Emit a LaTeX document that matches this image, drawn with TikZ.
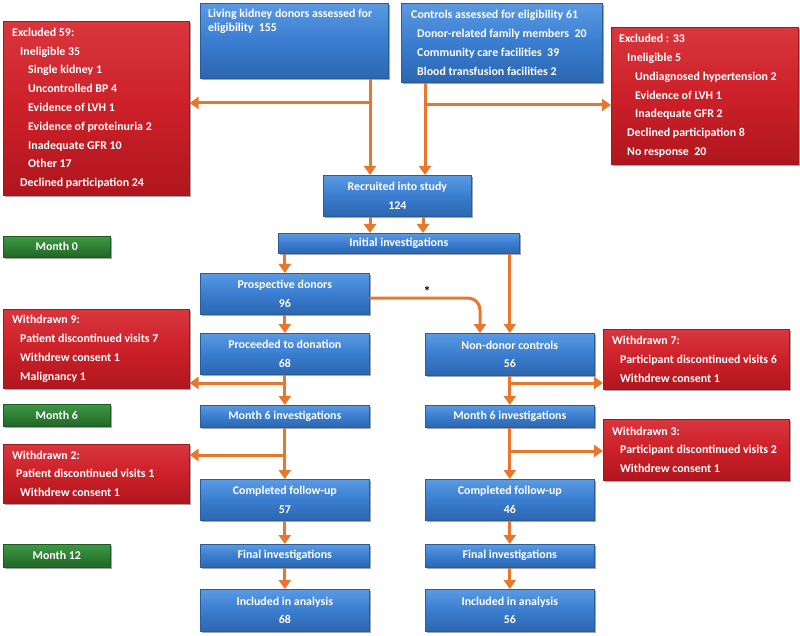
\documentclass[tikz,border=0pt]{standalone}
\usepackage{fontspec}
\setmainfont{Carlito}
\usetikzlibrary{arrows.meta,shadows,calc}
\definecolor{bluemid}{HTML}{3A7DD0}
\definecolor{bluetop}{HTML}{5B9AE2}
\definecolor{bluebot}{HTML}{2C66B0}
\definecolor{blueedge}{HTML}{2A5C9C}
\definecolor{redmid}{HTML}{CC2029}
\definecolor{redtop}{HTML}{D9363D}
\definecolor{redbot}{HTML}{B0161E}
\definecolor{rededge}{HTML}{9E1A1F}
\definecolor{greenmid}{HTML}{2F8034}
\definecolor{greentop}{HTML}{3E9744}
\definecolor{greenbot}{HTML}{226628}
\definecolor{greenedge}{HTML}{1D5A22}
\definecolor{orng}{HTML}{E8762D}
\tikzset{
  boxbase/.style={anchor=north west, inner sep=0pt, line width=0.6pt,
    drop shadow={shadow xshift=1.5pt, shadow yshift=-1.5pt, opacity=0.35, fill=black},
    text=white, align=center, font=\bfseries\fontsize{11.9}{18.8}\selectfont},
  bluebox/.style={boxbase, draw=blueedge, top color=bluetop, bottom color=bluebot, middle color=bluemid},
  redbox/.style={boxbase, draw=rededge, top color=redtop, bottom color=redbot, middle color=redmid},
  greenbox/.style={boxbase, draw=greenedge, top color=greentop, bottom color=greenbot, middle color=greenmid},
  ltxt/.style={text=white, anchor=west, align=left, inner sep=0pt, font=\bfseries\fontsize{11.9}{18.8}\selectfont},
  arr/.style={draw=orng, line width=3pt, -{Triangle[width=12pt,length=9pt]}},
}
\newcommand\ind{\hspace*{8pt}}
\begin{document}
\begin{tikzpicture}[x=1pt,y=-1pt]
\useasboundingbox (0,0) rectangle (800,636);
% ---- boxes
\node[bluebox, minimum width=188pt, minimum height=75pt] (living) at (200,3) {};
\node[ltxt, anchor=north west, font=\bfseries\fontsize{11.9}{14}\selectfont] (livingtxt) at (208,9) {Living kidney donors assessed for\\eligibility~ 155};
\node[bluebox, minimum width=201pt, minimum height=79pt] (controls) at (401,3) {};
\node[ltxt] (controlstxt) at ([xshift=10pt]controls.west) {Controls assessed for eligibility 61\\\hspace*{6pt}Donor-related family members~ 20\\\hspace*{6pt}Community care facilities~ 39\\\hspace*{6pt}Blood transfusion facilities 2};
\node[redbox, minimum width=186pt, minimum height=174pt] (excl59) at (3,21) {};
\node[ltxt] (excl59txt) at ([xshift=9pt]excl59.west) {Excluded 59:\\\ind Ineligible 35\\\ind\ind Single kidney 1\\\ind\ind Uncontrolled BP 4\\\ind\ind Evidence of LVH 1\\\ind\ind Evidence of proteinuria 2\\\ind\ind Inadequate GFR 10\\\ind\ind Other 17\\\ind Declined participation 24};
\node[redbox, minimum width=187pt, minimum height=137pt] (excl33) at (611,27) {};
\node[ltxt] (excl33txt) at ([xshift=8pt]excl33.west) {Excluded : 33\\\ind Ineligible 5\\\ind\ind Undiagnosed hypertension 2\\\ind\ind Evidence of LVH 1\\\ind\ind Inadequate GFR 2\\\ind Declined participation 8\\\ind No response~ 20};
\node[bluebox, minimum width=148pt, minimum height=41pt] (recruited) at (323,175) {Recruited into study\\124};
\node[bluebox, minimum width=241pt, minimum height=20pt] (initial) at (278,233) {Initial investigations};
\node[greenbox, minimum width=107pt, minimum height=21pt] (month0) at (3,236) {Month 0};
\node[bluebox, minimum width=169pt, minimum height=41pt] (prosp) at (200,273) {Prospective donors\\96};
\node[bluebox, minimum width=169pt, minimum height=41pt] (proceeded) at (200,333) {Proceeded to donation\\68};
\node[redbox, minimum width=186pt, minimum height=79pt] (wd9) at (3,309) {};
\node[ltxt] (wd9txt) at ([xshift=9pt]wd9.west) {Withdrawn 9:\\\ind Patient discontinued visits 7\\\ind Withdrew consent 1\\\ind Malignancy 1};
\node[bluebox, minimum width=169pt, minimum height=42pt] (nondonor) at (425,333) {Non-donor controls\\56};
\node[redbox, minimum width=186pt, minimum height=60pt] (wd7) at (603,329) {};
\node[ltxt] (wd7txt) at ([xshift=9pt]wd7.west) {Withdrawn 7:\\\ind Participant discontinued visits 6\\\ind Withdrew consent 1};
\node[greenbox, minimum width=107pt, minimum height=22pt] (month6) at (3,404) {Month 6};
\node[bluebox, minimum width=169pt, minimum height=22pt] (m6L) at (200,405) {Month 6 investigations};
\node[bluebox, minimum width=169pt, minimum height=22pt] (m6R) at (425,405) {Month 6 investigations};
\node[redbox, minimum width=186pt, minimum height=59pt] (wd2) at (3,444) {};
\node[ltxt] (wd2txt) at ([xshift=9pt]wd2.west) {Withdrawn 2:\\\hspace*{4pt}Patient discontinued visits 1\\\ind Withdrew consent 1};
\node[redbox, minimum width=186pt, minimum height=61pt] (wd3) at (603,419) {};
\node[ltxt] (wd3txt) at ([xshift=9pt]wd3.west) {Withdrawn 3:\\\ind Participant discontinued visits 2\\\ind Withdrew consent 1};
\node[bluebox, minimum width=169pt, minimum height=41pt] (compL) at (200,479) {Completed follow-up\\57};
\node[bluebox, minimum width=169pt, minimum height=41pt] (compR) at (425,479) {Completed follow-up\\46};
\node[greenbox, minimum width=107pt, minimum height=23pt] (month12) at (3,544) {Month 12};
\node[bluebox, minimum width=169pt, minimum height=23pt] (finL) at (200,544) {Final investigations};
\node[bluebox, minimum width=169pt, minimum height=23pt] (finR) at (425,544) {Final investigations};
\node[bluebox, minimum width=169pt, minimum height=42pt] (inclL) at (200,589) {Included in analysis\\68};
\node[bluebox, minimum width=169pt, minimum height=42pt] (inclR) at (425,589) {Included in analysis\\56};
\node[font=\bfseries\fontsize{14}{14}\selectfont, inner sep=0pt] (star) at (427,291) {*};
% ---- connectors
\coordinate (a1) at (370,0);
\coordinate (a2) at (425,0);
\draw[arr] (a1 |- living.south) -- (a1 |- recruited.north);
\draw[arr] (370,103) -- (excl59.east |- 0,103);
\draw[arr] (a2 |- controls.south) -- (a2 |- recruited.north);
\draw[arr] (425,105) -- (excl33.west |- 0,105);
\draw[arr] (a1 |- recruited.south) -- (a1 |- initial.north);
\coordinate (a3) at (423,0);
\draw[arr] (a3 |- recruited.south) -- (a3 |- initial.north);
\draw[arr] (prosp.north |- initial.south) -- (prosp.north);
\draw[arr] (nondonor.north |- initial.south) -- (nondonor.north);
\coordinate (a4) at (480,298);
\draw[arr, rounded corners=12pt] (prosp.east |- a4) -- (a4) -- (a4 |- nondonor.north);
\draw[arr] (prosp.south) -- (proceeded.north);
\draw[arr] (proceeded.south) -- (m6L.north);
\draw[arr] (proceeded.south |- 0,383) -- (wd9.east |- 0,383);
\draw[arr] (nondonor.south) -- (m6R.north);
\draw[arr] (nondonor.south |- 0,383) -- (wd7.west |- 0,383);
\draw[arr] (m6L.south) -- (compL.north);
\draw[arr] (m6L.south |- 0,455) -- (wd2.east |- 0,455);
\draw[arr] (m6R.south) -- (compR.north);
\draw[arr] (m6R.south |- 0,451) -- (wd3.west |- 0,451);
\draw[arr] (compL.south) -- (finL.north);
\draw[arr] (finL.south) -- (inclL.north);
\draw[arr] (compR.south) -- (finR.north);
\draw[arr] (finR.south) -- (inclR.north);
\end{tikzpicture}
\end{document}
